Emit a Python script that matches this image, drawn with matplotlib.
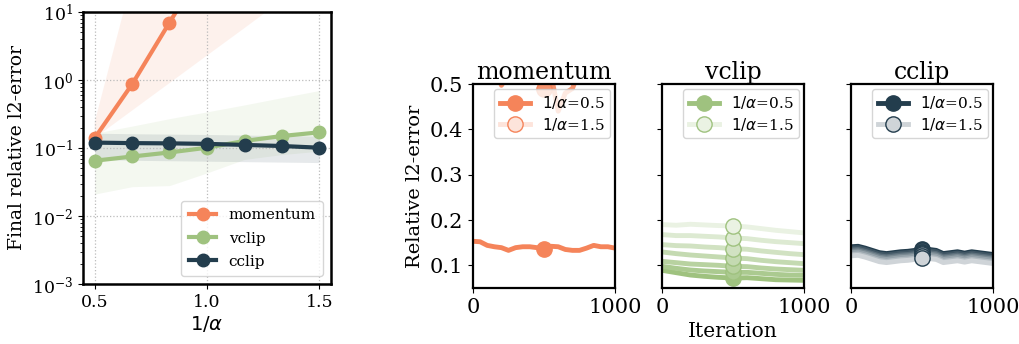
import numpy as np
import matplotlib
matplotlib.use("Agg")
import matplotlib.pyplot as plt
from matplotlib.colors import to_rgb

plt.rcParams['font.family'] = ['DejaVu Serif']
plt.rcParams['mathtext.fontset'] = 'dejavusans'

# colours per method
c_mom = "#F5845A"
c_vclip = "#9FC27F"
c_cclip = "#233D4D"

# left panel: final error vs 1/alpha
inv_alpha = [0.5, 0.667, 0.833, 1.0, 1.167, 1.333, 1.5]
mom_final = [0.14, 0.87, 7.0, 55, 400, 3000, 20000]
mom_lo = [0.14, 0.356, 0.90, 2.29, 5.8, 14.8, 37.6]
mom_hi = [0.24, 31, 1e3, 1e4, 1e5, 1e6, 1e7]
vclip_final = [0.065, 0.075, 0.086, 0.101, 0.127, 0.150, 0.170]
vclip_lo = [0.021, 0.027, 0.028, 0.043, 0.068, 0.080, 0.090]
vclip_hi = [0.165, 0.21, 0.27, 0.34, 0.43, 0.55, 0.70]
cclip_final = [0.120, 0.118, 0.117, 0.115, 0.111, 0.107, 0.101]
cclip_lo = [0.068, 0.066, 0.065, 0.064, 0.063, 0.062, 0.061]
cclip_hi = [0.165, 0.162, 0.160, 0.158, 0.155, 0.152, 0.150]

# right panels: error curves over iterations
iters = [0, 50, 100, 150, 200, 250, 300, 350, 400, 450, 500,
         550, 600, 650, 700, 750, 800, 850, 900, 950, 1000]
iters_coarse = [0, 500, 1000]
iters_vclip = [0, 100, 200, 300, 400, 500, 600, 700, 800, 900, 1000]

mom_curves = [
    (iters, [0.153, 0.152, 0.144, 0.141, 0.139, 0.133, 0.139, 0.141, 0.141, 0.139, 0.137,
             0.142, 0.141, 0.135, 0.133, 0.133, 0.138, 0.144, 0.141, 0.141, 0.138]),
    (iters, [0.58, 0.57, 0.56, 0.54, 0.497, 0.52, 0.55, 0.56, 0.54, 0.51, 0.49,
             0.52, 0.44, 0.48, 0.49, 0.53, 0.55, 0.56, 0.55, 0.57, 0.56]),
    (iters_coarse, [2.0, 4.0, 7.0]),
    (iters_coarse, [8.0, 25.0, 55.0]),
    (iters_coarse, [30.0, 150.0, 400.0]),
    (iters_coarse, [100.0, 900.0, 3000.0]),
    (iters_coarse, [400.0, 5000.0, 20000.0]),
]

vclip_curves = [
    (iters_vclip, [0.0890, 0.0838, 0.0786, 0.0757, 0.0735, 0.0720, 0.0727, 0.0705, 0.0683, 0.0676, 0.0669]),
    (iters_vclip, [0.0978, 0.0934, 0.0897, 0.0875, 0.0860, 0.0845, 0.0845, 0.0823, 0.0801, 0.0786, 0.0779]),
    (iters_vclip, [0.1088, 0.1059, 0.1029, 0.1015, 0.1000, 0.0978, 0.0971, 0.0941, 0.0919, 0.0904, 0.0890]),
    (iters_vclip, [0.1295, 0.1258, 0.1228, 0.1206, 0.1184, 0.1162, 0.1147, 0.1110, 0.1081, 0.1059, 0.1037]),
    (iters_vclip, [0.1457, 0.1435, 0.1427, 0.1405, 0.1390, 0.1368, 0.1354, 0.1317, 0.1287, 0.1258, 0.1236]),
    (iters_vclip, [0.1678, 0.1656, 0.1656, 0.1641, 0.1626, 0.1604, 0.1589, 0.1553, 0.1523, 0.1501, 0.1479]),
    (iters_vclip, [0.1899, 0.1884, 0.1906, 0.1891, 0.1877, 0.1869, 0.1847, 0.1810, 0.1773, 0.1744, 0.1715]),
]

cclip_curves = [
    (iters, [0.141, 0.142, 0.138, 0.133, 0.128, 0.126, 0.128, 0.130, 0.131, 0.133, 0.137,
             0.135, 0.133, 0.126, 0.128, 0.130, 0.127, 0.130, 0.128, 0.126, 0.124]),
    (iters, [0.138, 0.139, 0.135, 0.130, 0.125, 0.123, 0.125, 0.127, 0.128, 0.130, 0.134,
             0.132, 0.130, 0.123, 0.125, 0.127, 0.124, 0.127, 0.125, 0.123, 0.121]),
    (iters, [0.134, 0.135, 0.131, 0.126, 0.121, 0.119, 0.121, 0.123, 0.124, 0.126, 0.130,
             0.128, 0.126, 0.119, 0.121, 0.123, 0.120, 0.123, 0.121, 0.119, 0.117]),
    (iters, [0.131, 0.132, 0.128, 0.123, 0.118, 0.116, 0.118, 0.120, 0.121, 0.123, 0.127,
             0.125, 0.123, 0.116, 0.118, 0.120, 0.117, 0.120, 0.118, 0.116, 0.114]),
    (iters, [0.128, 0.129, 0.125, 0.120, 0.115, 0.113, 0.115, 0.117, 0.118, 0.120, 0.124,
             0.122, 0.120, 0.113, 0.115, 0.117, 0.114, 0.117, 0.115, 0.113, 0.111]),
    (iters, [0.124, 0.125, 0.121, 0.116, 0.111, 0.109, 0.111, 0.113, 0.114, 0.116, 0.120,
             0.118, 0.116, 0.109, 0.111, 0.113, 0.110, 0.113, 0.111, 0.109, 0.107]),
    (iters, [0.121, 0.122, 0.118, 0.113, 0.108, 0.106, 0.108, 0.110, 0.111, 0.113, 0.117,
             0.115, 0.113, 0.106, 0.108, 0.110, 0.107, 0.110, 0.108, 0.106, 0.104]),
]


def lighten(color, frac):
    # blend colour towards white, frac=1 keeps full colour
    r, g, b = to_rgb(color)
    return (1 - frac * (1 - r), 1 - frac * (1 - g), 1 - frac * (1 - b))


fig = plt.figure(figsize=(10.2, 3.44), dpi=100)

# ---- left panel ----
ax = fig.add_axes([83 / 1020, 1 - 284 / 344, 248 / 1020, 272 / 344])
for fin, lo, hi, col, name in [(mom_final, mom_lo, mom_hi, c_mom, 'momentum'),
                               (vclip_final, vclip_lo, vclip_hi, c_vclip, 'vclip'),
                               (cclip_final, cclip_lo, cclip_hi, c_cclip, 'cclip')]:
    ax.fill_between(inv_alpha, lo, hi, color=col, alpha=0.11, lw=0)
    ax.plot(inv_alpha, fin, '-o', color=col, lw=3, ms=9, label=name)
ax.set_yscale('log')
ax.set_ylim(1e-3, 1e1)
ax.set_xlim(0.448, 1.552)
ax.set_xticks([0.5, 1.0, 1.5])
ax.grid(True, ls=':', color='#bbbbbb', lw=0.9)
ax.tick_params(labelsize=12.5)
ax.set_ylabel('Final relative l2-error', fontsize=13.5)
ax.set_xlabel(r'$1/\alpha$', fontsize=14, labelpad=2)
ax.legend(loc='lower right', fontsize=11, handlelength=1.8, borderpad=0.5, labelspacing=0.6)
for s in ax.spines.values():
    s.set_linewidth(1.8)

# ---- right panels ----
panels = [('momentum', mom_curves, c_mom, 473),
          ('vclip', vclip_curves, c_vclip, 662),
          ('cclip', cclip_curves, c_cclip, 851)]
for j, (title, curves, col, x0) in enumerate(panels):
    axr = fig.add_axes([x0 / 1020, 1 - 288 / 344, 142 / 1020, 204 / 344])
    n = len(curves)
    for i, (xs, ys) in enumerate(curves):
        frac = 1.0 - 0.78 * i / (n - 1)
        c = lighten(col, frac)
        k = xs.index(500)
        lab = None
        if i == 0:
            lab = r'$1/\alpha$=0.5'
        elif i == n - 1:
            lab = r'$1/\alpha$=1.5'
        axr.plot(xs, ys, '-', color=c, lw=3.5, marker='o', ms=11, markevery=[k],
                 mfc=c, mec=col if i > 0 else c, mew=1.0, label=lab)
    axr.set_xlim(0, 1000)
    axr.set_ylim(0.05, 0.5)
    axr.set_xticks([0, 1000])
    axr.set_yticks([0.1, 0.2, 0.3, 0.4, 0.5])
    axr.tick_params(labelsize=15)
    if j > 0:
        axr.set_yticklabels([])
    else:
        axr.set_ylabel('Relative l2-error', fontsize=14)
    if j == 1:
        axr.set_xlabel('Iteration', fontsize=14.5)
    axr.set_title(title, fontsize=17, pad=1)
    axr.legend(loc='upper right', fontsize=11, handlelength=2.0, borderpad=0.35,
               labelspacing=0.3, borderaxespad=0.3)
    for s in axr.spines.values():
        s.set_linewidth(1.6)

fig.savefig('out.png', dpi=100)
